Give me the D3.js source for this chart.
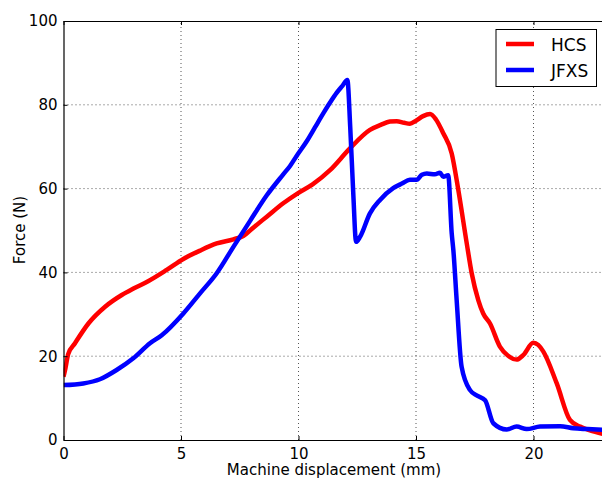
<!DOCTYPE html>
<html>
<head>
<meta charset="utf-8">
<script src="https://cdn.jsdelivr.net/npm/d3@7"></script>
<style>
  body { margin: 0; background: #fff; }
  text { font-family: "DejaVu Sans", sans-serif; fill: #000; }
</style>
</head>
<body>
<div id="chart"></div>
<script>
// data
const seriesNames = ['HCS', 'JFXS'];
const seriesColors = ['#ff0000', '#0000ff'];

const hcsX = [0, 0.06, 0.2, 0.49, 1.06, 1.77, 2.48, 3.0, 3.6, 4.39, 5.1, 5.81, 6.52, 7.23, 7.65, 8.1, 8.65, 9.35, 10, 10.6, 11.34, 12.19, 13.04, 13.5, 13.89, 14.18, 14.5, 14.74, 15.0, 15.3, 15.6, 15.85, 16.16, 16.52, 16.8, 17.16, 17.37, 17.65, 17.86, 18.15, 18.57, 18.9, 19.28, 19.57, 19.99, 20.2, 20.42, 20.99, 21.55, 21.98, 22.4, 23];
const hcsY = [15.1, 16.5, 20.5, 23.1, 27.8, 31.8, 34.6, 36.2, 37.9, 40.6, 43.2, 45.2, 46.9, 47.9, 48.7, 50.8, 53.3, 56.5, 59, 61, 64.4, 69.6, 74, 75.2, 76, 76.1, 75.7, 75.5, 76.2, 77.3, 77.8, 76.5, 73.2, 68.4, 59.7, 46.9, 39.8, 33.4, 30.2, 27.8, 22.3, 20.2, 19.2, 20.3, 23.2, 22.7, 21.1, 13.5, 4.8, 3.2, 2.3, 1.4];

const jfxsX = [0, 0.84, 1.55, 2.26, 2.97, 3.68, 4.18, 5.1, 5.81, 6.52, 7.23, 7.94, 8.65, 9.35, 9.64, 9.92, 10.35, 10.7, 11.06, 11.35, 11.63, 11.85, 12.08, 12.2, 12.33, 12.45, 12.62, 13.04, 13.47, 14.03, 14.4, 14.74, 15.03, 15.25, 15.46, 15.8, 16.02, 16.16, 16.37, 16.52, 16.59, 16.73, 16.94, 17.3, 17.6, 17.94, 18.29, 18.86, 19.28, 19.71, 20.28, 21.13, 21.69, 22.3, 23];
const jfxsY = [13.1, 13.5, 14.5, 16.7, 19.5, 23.1, 25, 30.2, 35, 39.8, 46.1, 52.3, 58.4, 63.4, 65.4, 67.8, 71.3, 74.6, 78, 80.6, 82.9, 84.4, 85.9, 74.8, 58.9, 47.3, 48.5, 54.1, 57.3, 60.1, 61.2, 62.1, 62.1, 63.3, 63.6, 63.4, 63.8, 62.8, 63.2, 49.3, 45.3, 33.4, 17.5, 11.9, 10.6, 9.5, 4, 2.5, 3.2, 2.6, 3.2, 3.3, 2.8, 2.6, 2.4];

const xTicks = [0, 5, 10, 15, 20];
const yTicks = [0, 20, 40, 60, 80, 100];

const W = 602, H = 479;
const svg = d3.select('#chart').append('svg')
  .attr('width', W)
  .attr('height', H);

const x = d3.scaleLinear().domain([0, 23]).range([63.5, 604]);
const y = d3.scaleLinear().domain([0, 100]).range([440, 21]);

// grid
const grid = svg.append('g')
  .attr('stroke', '#555')
  .attr('stroke-width', 1)
  .attr('stroke-dasharray', '1,3');
grid.selectAll('.gx').data(xTicks.slice(1)).enter().append('line')
  .attr('x1', d => x(d)).attr('x2', d => x(d))
  .attr('y1', y(0)).attr('y2', y(100));
grid.selectAll('.gy').data(yTicks.slice(1, -1)).enter().append('line')
  .attr('x1', x(0)).attr('x2', x(23))
  .attr('y1', d => y(d)).attr('y2', d => y(d));

// lines
const line = d3.line()
  .x(d => x(d[0]))
  .y(d => y(d[1]))
  .curve(d3.curveMonotoneX);

const series = [
  hcsX.map((v, i) => [v, hcsY[i]]),
  jfxsX.map((v, i) => [v, jfxsY[i]]),
];

svg.append('defs').append('clipPath').attr('id', 'clip')
  .append('rect')
  .attr('x', x(0)).attr('y', y(100))
  .attr('width', x(23) - x(0)).attr('height', y(0) - y(100));

svg.append('g').attr('clip-path', 'url(#clip)')
  .selectAll('path').data(series).enter().append('path')
  .attr('d', line)
  .attr('fill', 'none')
  .attr('stroke', (d, i) => seriesColors[i])
  .attr('stroke-width', 4.5)
  .attr('stroke-linejoin', 'round')
  .attr('stroke-linecap', 'butt');

// axes (ticks pointing inward, classic style)
const xAxis = svg.append('g').attr('transform', 'translate(0,' + y(0) + ')')
  .call(d3.axisBottom(x).tickValues(xTicks).tickSizeInner(-4).tickSizeOuter(0).tickPadding(8));
const xTop = svg.append('g').attr('transform', 'translate(0,' + y(100) + ')')
  .call(d3.axisTop(x).tickValues(xTicks).tickSizeInner(-4).tickSizeOuter(0).tickFormat(''));
const yAxis = svg.append('g').attr('transform', 'translate(' + x(0) + ',0)')
  .call(d3.axisLeft(y).tickValues(yTicks).tickSizeInner(-4).tickSizeOuter(0).tickPadding(6));

[xAxis, xTop, yAxis].forEach(g => {
  g.select('.domain').attr('stroke', '#000').attr('stroke-width', 1.2);
  g.selectAll('.tick line').attr('stroke', '#000').attr('stroke-width', 1);
  g.selectAll('.tick text').style('font-size', '15px').attr('fill', '#000');
});

// axis labels
svg.append('text')
  .attr('x', 334).attr('y', 475)
  .attr('text-anchor', 'middle')
  .style('font-size', '15px')
  .text('Machine displacement (mm)');

svg.append('text')
  .attr('transform', 'translate(25,230) rotate(-90)')
  .attr('text-anchor', 'middle')
  .style('font-size', '15px')
  .text('Force (N)');

// legend
const legend = svg.append('g');
legend.append('rect')
  .attr('x', 496).attr('y', 29.5)
  .attr('width', 100.5).attr('height', 57)
  .attr('fill', '#fff')
  .attr('stroke', '#000')
  .attr('stroke-width', 1);
seriesNames.forEach((name, i) => {
  const ly = 44 + i * 26;
  legend.append('line')
    .attr('x1', 506).attr('x2', 534)
    .attr('y1', ly).attr('y2', ly)
    .attr('stroke', seriesColors[i])
    .attr('stroke-width', 4.5);
  legend.append('text')
    .attr('x', 551).attr('y', ly + 6.5)
    .style('font-size', '17px')
    .text(name);
});
</script>
</body>
</html>
